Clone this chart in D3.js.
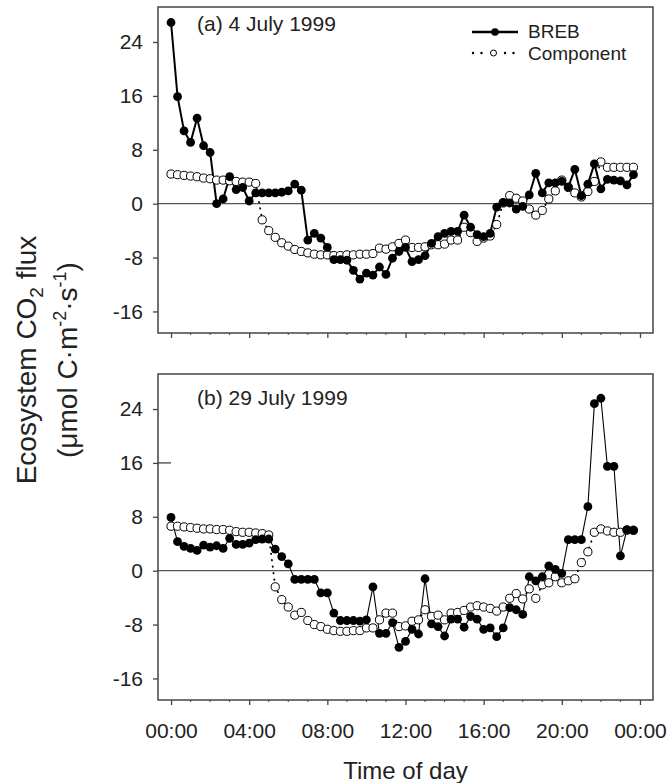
<!DOCTYPE html>
<html><head><meta charset="utf-8">
<script src="https://cdn.jsdelivr.net/npm/d3@7"></script>
<style>body{margin:0;background:#fff;} svg{display:block;font-family:"Liberation Sans",Arial,sans-serif;}</style>
</head><body>
<svg id="chart" width="672" height="783"></svg>
<script>
const sampleTimes = [
 "00:00","00:20","00:40","01:00","01:20","01:40","02:00","02:20","02:40","03:00","03:20","03:40",
 "04:00","04:20","04:40","05:00","05:20","05:40","06:00","06:20","06:40","07:00","07:20","07:40",
 "08:00","08:20","08:40","09:00","09:20","09:40","10:00","10:20","10:40","11:00","11:20","11:40",
 "12:00","12:20","12:40","13:00","13:20","13:40","14:00","14:20","14:40","15:00","15:20","15:40",
 "16:00","16:20","16:40","17:00","17:20","17:40","18:00","18:20","18:40","19:00","19:20","19:40",
 "20:00","20:20","20:40","21:00","21:20","21:40","22:00","22:20","22:40","23:00","23:20","23:40"];
// (a) 4 July 1999
const brebA = [
 26.9, 15.9, 10.8, 9.1, 12.7, 8.6, 7.6, 0.0, 0.7, 4.0, 2.1, 2.4,
 0.4, 1.6, 1.6, 1.6, 1.6, 1.7, 1.9, 2.9, 2.0, -5.4, -4.4, -5.1,
 -6.5, -8.3, -8.3, -8.4, -9.9, -11.2, -10.3, -10.6, -9.4, -10.5, -8.1, -7.1,
 -6.5, -8.6, -8.3, -7.7, -5.9, -4.9, -4.4, -4.1, -4.1, -1.7, -3.5, -4.6,
 -4.9, -4.4, -0.5, 0.2, 0.1, -0.8, -0.4, 1.3, 4.5, 1.6, 3.1, 3.1,
 3.3, 2.5, 5.1, 1.2, 2.9, 5.9, 2.2, 3.6, 3.5, 3.4, 2.8, 4.3];
const compA = [
 4.4, 4.3, 4.2, 4.1, 4.0, 3.8, 3.7, 3.5, 3.5, 3.4, 3.3, 3.2,
 3.2, 3.0, -2.4, -4.0, -5.0, -5.8, -6.3, -6.8, -7.1, -7.3, -7.5, -7.6,
 -7.6, -7.7, -7.7, -7.6, -7.6, -7.5, -7.5, -7.4, -6.6, -6.75, -6.4, -5.9,
 -5.4, -6.5, -6.5, -6.4, -6.1, -6.1, -6.0, -5.4, -5.4, -3.5, -4.3, -5.6,
 -5.1, -4.8, -3.1, 0.1, 1.2, 0.8, 0.4, -0.8, -1.7, -1.0, 0.7, 1.9,
 3.5, 2.4, 1.6, 1.0, 1.8, 3.3, 6.2, 5.4, 5.4, 5.4, 5.4, 5.4];
// (b) 29 July 1999
const brebB = [
 7.9, 4.3, 3.6, 3.3, 3.0, 3.8, 3.5, 3.7, 3.3, 4.8, 3.9, 3.9,
 4.1, 4.6, 4.7, 4.7, 3.2, 2.1, 1.0, -1.3, -1.3, -1.3, -1.3, -3.3,
 -3.3, -6.3, -7.4, -7.4, -7.4, -7.5, -7.3, -2.4, -9.3, -9.3, -7.7, -11.4,
 -10.5, -8.7, -9.4, -1.2, -7.9, -8.3, -9.7, -7.2, -7.2, -8.4, -6.8, -7.2,
 -8.7, -8.5, -9.8, -8.5, -5.5, -5.8, -6.5, -0.9, -1.5, -0.9, 0.7, 0.2,
 -0.4, 4.6, 4.6, 4.6, 9.5, 24.8, 25.6, 15.5, 15.5, 2.2, 6.1, 6.0];
const compB = [
 6.6, 6.6, 6.5, 6.4, 6.3, 6.2, 6.2, 6.1, 6.1, 6.0, 5.8, 5.7,
 5.7, 5.6, 5.5, 5.3, -2.4, -4.3, -5.4, -6.6, -6.2, -7.4, -8.0, -8.3,
 -8.7, -8.9, -9.0, -9.0, -8.9, -8.9, -8.5, -8.5, -7.3, -6.3, -6.3, -8.3,
 -8.2, -7.5, -7.3, -5.8, -6.8, -6.6, -7.3, -6.3, -6.2, -5.9, -5.4, -5.2,
 -5.4, -5.6, -6.0, -5.4, -4.1, -3.4, -4.2, -2.7, -4.1, -2.1, -1.8, -0.9,
 -1.8, -1.5, -1.2, 1.2, 2.8, 5.7, 6.2, 5.9, 5.7, 5.7, 6.0, 6.0];
const panelLabels = ["(a) 4 July 1999", "(b) 29 July 1999"];
const seriesNames = ["BREB", "Component"];
const xTickHours = [0, 4, 8, 12, 16, 20, 24];
const xTickLabels = ["00:00", "04:00", "08:00", "12:00", "16:00", "20:00", "00:00"];
const yTicks = [-16, -8, 0, 8, 16, 24];
const xTitle = "Time of day";

const svg = d3.select("#chart");
const L = 158, R = 653;
const x = d3.scaleLinear().domain([-0.667, 24.667]).range([L, R]);
const tHours = sampleTimes.map(s => { const p = s.split(":").map(Number); return p[0] + p[1] / 60; });
const frameColor = "#444", textColor = "#222";
const minorHours = d3.range(1, 24).filter(h => h % 4 !== 0);

const panels = [
  {top: 7, bottom: 333, breb: brebA, comp: compA, label: panelLabels[0], labelY: 31, lw: 2, showX: false},
  {top: 374, bottom: 700, breb: brebB, comp: compB, label: panelLabels[1], labelY: 405, lw: 1.1, showX: true}
];

panels.forEach((p, pi) => {
  const y = d3.scaleLinear().domain([-19.2, 29.2]).range([p.bottom, p.top]);
  const g = svg.append("g");
  g.append("line").attr("x1", L).attr("x2", R).attr("y1", y(0)).attr("y2", y(0))
    .attr("stroke", "#555").attr("stroke-width", 1.3);

  const ya = g.append("g").attr("transform", `translate(${L},0)`)
    .call(d3.axisLeft(y).tickValues(yTicks).tickSize(5).tickPadding(10).tickFormat(d => String(d)));
  ya.select(".domain").remove();
  ya.selectAll("line").attr("stroke", frameColor).attr("stroke-width", 1.3);
  ya.selectAll("text").attr("font-size", 21).attr("fill", textColor).attr("font-family", "Liberation Sans, Arial, sans-serif");

  const xa = g.append("g").attr("transform", `translate(0,${p.bottom})`)
    .call(d3.axisBottom(x).tickValues(xTickHours).tickSize(5).tickPadding(18)
      .tickFormat((d, i) => p.showX ? xTickLabels[i] : ""));
  xa.select(".domain").remove();
  xa.selectAll("line").attr("stroke", frameColor).attr("stroke-width", 1.3);
  xa.selectAll("text").attr("font-size", 21).attr("fill", textColor).attr("font-family", "Liberation Sans, Arial, sans-serif");
  g.selectAll(".minor").data(minorHours).enter().append("line")
    .attr("x1", d => x(d)).attr("x2", d => x(d)).attr("y1", p.bottom).attr("y2", p.bottom + 2)
    .attr("stroke", frameColor).attr("stroke-width", 1);

  if (pi === 1) {
    g.append("line").attr("x1", L).attr("x2", L + 13).attr("y1", y(16)).attr("y2", y(16))
      .attr("stroke", frameColor).attr("stroke-width", 1.3);
  }

  g.append("rect").attr("x", L).attr("y", p.top).attr("width", R - L).attr("height", p.bottom - p.top)
    .attr("fill", "none").attr("stroke", frameColor).attr("stroke-width", 1.5);

  const line = d3.line().x((d, i) => x(tHours[i])).y(d => y(d));
  g.append("path").datum(p.comp).attr("d", line).attr("fill", "none").attr("stroke", "#000")
    .attr("stroke-width", 1.8).attr("stroke-dasharray", "0.5,6").attr("stroke-linecap", "round");
  g.append("path").datum(p.breb).attr("d", line).attr("fill", "none").attr("stroke", "#000")
    .attr("stroke-width", p.lw);
  g.selectAll(".c").data(p.comp).enter().append("circle")
    .attr("cx", (d, i) => x(tHours[i])).attr("cy", d => y(d)).attr("r", 4.1)
    .attr("fill", "#fff").attr("stroke", "#000").attr("stroke-width", 1);
  g.selectAll(".b").data(p.breb).enter().append("circle")
    .attr("cx", (d, i) => x(tHours[i])).attr("cy", d => y(d)).attr("r", 4.4).attr("fill", "#000");

  g.append("text").attr("x", 197).attr("y", p.labelY).attr("font-size", 21).attr("fill", textColor).text(p.label);
});

// legend
const lg = svg.append("g");
lg.append("line").attr("x1", 472).attr("x2", 518).attr("y1", 32).attr("y2", 32).attr("stroke", "#000").attr("stroke-width", 2.5);
lg.append("circle").attr("cx", 495).attr("cy", 32).attr("r", 3.8).attr("fill", "#000");
lg.append("text").attr("x", 528).attr("y", 38).attr("font-size", 19).attr("fill", textColor).text(seriesNames[0]);
[[473, 482], [505, 514]].forEach(s => {
  lg.append("line").attr("x1", s[0]).attr("x2", s[1]).attr("y1", 53).attr("y2", 53).attr("stroke", "#000")
    .attr("stroke-width", 2.4).attr("stroke-dasharray", "0,8.5").attr("stroke-linecap", "round");
});
lg.append("circle").attr("cx", 493.5).attr("cy", 53).attr("r", 3).attr("fill", "#fff").attr("stroke", "#000").attr("stroke-width", 1);
lg.append("text").attr("x", 528).attr("y", 60).attr("font-size", 19).attr("fill", textColor).text(seriesNames[1]);

// axis titles
svg.append("text").attr("x", (x(0) + x(24)) / 2).attr("y", 779).attr("text-anchor", "middle")
  .attr("font-size", 24).attr("fill", textColor).text(xTitle);
const yt = svg.append("g").attr("transform", "translate(0,360)");
const t1 = yt.append("text").attr("transform", "translate(36,0) rotate(-90)").attr("text-anchor", "middle")
  .attr("font-size", 28).attr("fill", textColor);
t1.append("tspan").text("Ecosystem CO");
t1.append("tspan").attr("font-size", 19).attr("dy", 7).text("2");
t1.append("tspan").attr("dy", -7).text(" flux");
const t2 = yt.append("text").attr("transform", "translate(77,0) rotate(-90)").attr("text-anchor", "middle")
  .attr("font-size", 28).attr("fill", textColor);
t2.append("tspan").text("(\u03bcmol C\u00b7m");
t2.append("tspan").attr("font-size", 18).attr("dy", -11).text("-2");
t2.append("tspan").attr("dy", 11).text("\u00b7s");
t2.append("tspan").attr("font-size", 18).attr("dy", -11).text("-1");
t2.append("tspan").attr("dy", 11).text(")");
</script>
</body></html>
